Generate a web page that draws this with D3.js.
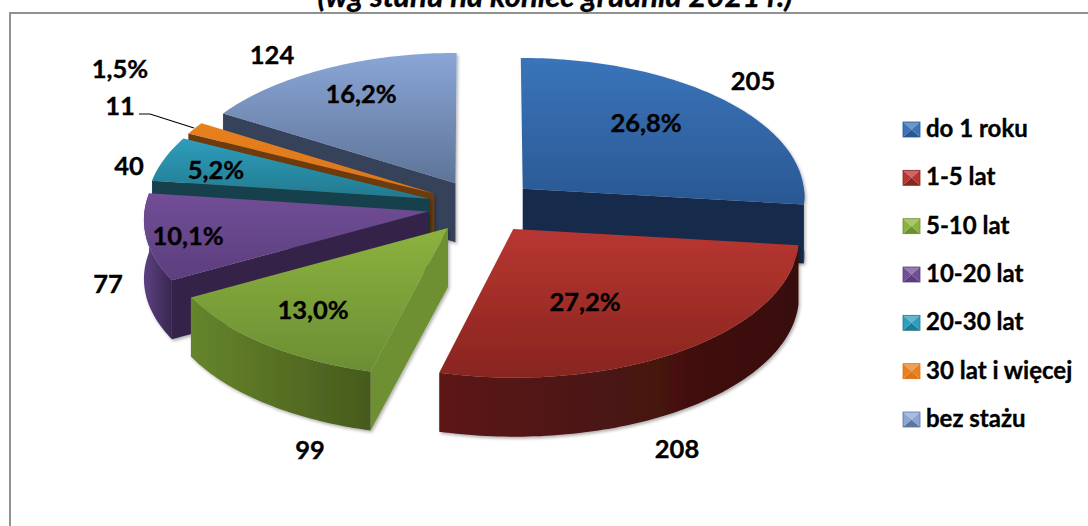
<!DOCTYPE html>
<html><head><meta charset="utf-8">
<script src="https://cdn.jsdelivr.net/npm/d3@7"></script>
<style>html,body{margin:0;padding:0;background:#fff;overflow:hidden}svg{display:block}text{font-family:Lato,Carlito,sans-serif;font-weight:700;fill:#000;stroke:#000;stroke-width:.35px}</style>
</head><body><svg width="1088" height="526"></svg>
<script>
const categories = ["do 1 roku","1-5 lat","5-10 lat","10-20 lat","20-30 lat","30 lat i więcej","bez stażu"];
const values = [205,208,99,77,40,11,124];
const percentLabels = ["26,8%","27,2%","13,0%","10,1%","5,2%","1,5%","16,2%"];
const topLight = ["#3A74BA","#B83631","#8CB23E","#714E96","#2F9DBB","#E8801F","#8AA6D6"];
const topDark  = ["#2A5893","#88251F","#6B8E34","#5C3E7E","#227A90","#DB7518","#5E7498"];
const wallA    = ["#1A3358","#5C1817","#66852C","#5B4181","#1D6478","#8A4A10","#3A4A66"];
const wallB    = ["#162A4A","#380E0D","#465A1C","#3A2650","#154A58","#6D3A0C","#35425A"];
const radial   = ["#162C4C","#3A0F0F","#6E9030","#36234A","#133F4C","#6D3A0C","#35425A"];
const drawOrder = [6,5,4,3,2,0,1];

const svg = d3.select("svg");
const defs = svg.append("defs");
const shadow = defs.append("filter").attr("id","sh").attr("x","-10%").attr("y","-10%").attr("width","120%").attr("height","120%");
shadow.append("feDropShadow").attr("dx",1.5).attr("dy",2).attr("stdDeviation",1.6).attr("flood-color","#000").attr("flood-opacity",.3);

// frame (runs past the right and bottom of the picture)
svg.append("rect").attr("x",10).attr("y",13).attr("width",1100).attr("height",540).attr("fill","#fff").attr("stroke","#868686").attr("stroke-width",1.8);

// title
svg.append("text").attr("x",555).attr("y",7).attr("text-anchor","middle").attr("font-size",31).attr("font-style","italic").text("(wg stanu na koniec grudnia 2021 r.)");

// projection of the pie plane to the screen
const cx=482, cy=206.5, A=283, B=139, k=0.05, explode=0.194, depth=59;
const px = d3.scaleLinear().domain([0,1]).range([0,A]);
const py = d3.scaleLinear().domain([0,1]).range([0,B]);
const pers = Y => 1/(1-k*Y);
const project = (X,Y,h=0) => { const f=pers(Y); return [cx+px(X)*f, cy+py(Y)*f+h*depth]; };

const pie = d3.pie().sort(null).value(d=>d).startAngle(0).endAngle(2*Math.PI);
const arcs = pie(values);
const line = d3.line();
const g = svg.append("g");

function sliceGeom(a){
  const mid=(a.startAngle+a.endAngle)/2;
  const ox=explode*Math.sin(mid), oy=-explode*Math.cos(mid);
  const pt=(t,r=1)=>[ox+r*Math.sin(t), oy-r*Math.cos(t)];
  return {pt,ox,oy};
}
function samples(s,e){ const n=Math.max(2,Math.ceil((e-s)/0.02)); return d3.range(n+1).map(i=>s+(e-s)*i/n); }

drawOrder.forEach(i=>{
  const a=arcs[i], {pt,ox,oy}=sliceGeom(a), s=a.startAngle, e=a.endAngle;
  const sg=g.append("g").attr("filter","url(#sh)");
  // radial walls
  [[s,-1],[e,1]].forEach(([t,sign])=>{
    const ny=sign*Math.sin(t);
    if(ny>0){
      const P=pt(t);
      const poly=[project(ox,oy,0),project(P[0],P[1],0),project(P[0],P[1],1),project(ox,oy,1)];
      sg.append("path").attr("d",line(poly)+"Z").attr("fill",radial[i]);
    }
  });
  // outer arc wall
  const s2=Math.max(s,Math.PI/2-0.02), e2=Math.min(e,3*Math.PI/2+0.14);
  if(e2>s2){
    const ts=samples(s2,e2);
    const upper=ts.map(t=>{const P=pt(t);return project(P[0],P[1],0)});
    const lower=ts.map(t=>{const P=pt(t);return project(P[0],P[1],1)}).reverse();
    const xs=upper.map(d=>d[0]);
    const id="w"+i;
    const lg=defs.append("linearGradient").attr("id",id).attr("gradientUnits","userSpaceOnUse")
      .attr("x1",d3.min(xs)).attr("x2",d3.max(xs)).attr("y1",0).attr("y2",0);
    lg.append("stop").attr("offset",0).attr("stop-color",wallA[i]);
    lg.append("stop").attr("offset",1).attr("stop-color",wallB[i]);
    sg.append("path").attr("d",line(upper.concat(lower))+"Z").attr("fill",`url(#${id})`);
  }
  // top surface
  const ts=samples(s,e);
  const top=[project(ox,oy,0)].concat(ts.map(t=>{const P=pt(t);return project(P[0],P[1],0)}));
  const id="t"+i;
  const lg=defs.append("linearGradient").attr("id",id).attr("gradientUnits","userSpaceOnUse")
    .attr("x1",0).attr("x2",0).attr("y1",d3.min(top,d=>d[1])).attr("y2",d3.max(top,d=>d[1]));
  lg.append("stop").attr("offset",0).attr("stop-color",topLight[i]);
  lg.append("stop").attr("offset",1).attr("stop-color",topDark[i]);
  sg.append("path").attr("d",line(top)+"Z").attr("fill",`url(#${id})`);
});

// labels
const fs=25.5;
function label(t,x,y){ svg.append("text").attr("x",x).attr("y",y).attr("text-anchor","middle").attr("font-size",fs).text(t); }
const pctAt=[[646,132],[585,311],[313,319],[188,245],[216,179],[120,78],[361,103]];
percentLabels.forEach((t,i)=>label(t,pctAt[i][0],pctAt[i][1]));
const valAt=[[753,90],[677,458],[310,459],[108,293],[129,175],[120,115],[272,64]];
values.forEach((v,i)=>label(String(v),valAt[i][0],valAt[i][1]));

// leader line for the small slice
svg.append("path").attr("d",line([[139,114],[150,114],[194,128]])).attr("fill","none").attr("stroke","#000").attr("stroke-width",1.2);

// legend
const ly = d3.scalePoint().domain(categories).range([129,419]);
const leg = svg.append("g");
categories.forEach((c,i)=>{
  const y=ly(c), x0=903, w=17, h=15, t=y-7;
  const tri=(pts,col)=>leg.append("path").attr("d",line(pts)+"Z").attr("fill",col);
  const m=[x0+w/2,t+h/2];
  tri([[x0,t],[x0+w,t],m], d3.interpolateRgb(topLight[i],"#fff")(.25));
  tri([[x0,t+h],[x0+w,t+h],m], topDark[i]);
  tri([[x0,t],[x0,t+h],m], topLight[i]);
  tri([[x0+w,t],[x0+w,t+h],m], topLight[i]);
  leg.append("rect").attr("x",x0).attr("y",t).attr("width",w).attr("height",h).attr("fill","none").attr("stroke",topDark[i]).attr("stroke-width",.8);
  leg.append("text").attr("x",926).attr("y",y+8).attr("font-size",24).text(c);
});
</script></body></html>
